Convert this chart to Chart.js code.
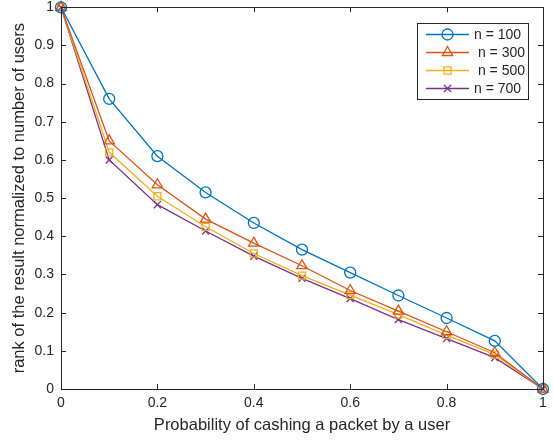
<!DOCTYPE html>
<html>
<head>
<meta charset="utf-8">
<script src="https://cdn.jsdelivr.net/npm/chart.js@4/dist/chart.umd.min.js"></script>
<style>
  html, body { margin: 0; padding: 0; background: #fff; }
  #wrap { width: 553px; height: 441px; }
</style>
</head>
<body>
<div id="wrap"><canvas id="chartRank"></canvas></div>
<script>
// data
const probs = [0, 0.1, 0.2, 0.3, 0.4, 0.5, 0.6, 0.7, 0.8, 0.9, 1];
const rank100 = [1, 0.76, 0.61, 0.515, 0.435, 0.365, 0.305, 0.245, 0.186, 0.126, 0];
const rank300 = [1, 0.65, 0.535, 0.445, 0.382, 0.323, 0.258, 0.204, 0.150, 0.095, 0];
const rank500 = [1, 0.62, 0.505, 0.425, 0.355, 0.297, 0.246, 0.195, 0.141, 0.090, 0];
const rank700 = [1, 0.60, 0.483, 0.414, 0.348, 0.290, 0.237, 0.182, 0.132, 0.082, 0];
const seriesNames = ['n = 100', ' n = 300', ' n = 500', 'n = 700'];
const xTicks = [0, 0.2, 0.4, 0.6, 0.8, 1];
const yTicks = [0, 0.1, 0.2, 0.3, 0.4, 0.5, 0.6, 0.7, 0.8, 0.9, 1];

const colors = ['#0072BD', '#D95319', '#EDB120', '#7E2F8E'];
const markers = ['circle', 'triangle', 'rect', 'crossRot'];
const markerSize = [5.5, 6, 5, 5];
const axisColor = '#262626';
const fontFamily = '"Liberation Sans", Arial, sans-serif';

function toPoints(ys) {
    return probs.map(function(p, i) { return { x: p, y: ys[i] }; });
}

const allSeries = [rank100, rank300, rank500, rank700];
const datasets = allSeries.map(function(ys, i) {
    return {
        label: seriesNames[i],
        data: toPoints(ys),
        borderColor: colors[i],
        backgroundColor: colors[i],
        borderWidth: 1.3,
        pointStyle: markers[i],
        pointRadius: markerSize[i],
        pointHoverRadius: markerSize[i],
        pointBorderColor: colors[i],
        pointBackgroundColor: 'rgba(0,0,0,0)',
        pointBorderWidth: 1.3,
        tension: 0,
        fill: false,
        clip: false
    };
});

// box + inward ticks + legend, MATLAB style
const matlabAxes = {
    id: 'matlabAxes',
    afterDatasetsDraw: function(chart) {
        const ctx = chart.ctx;
        const a = chart.chartArea;
        const xs = chart.scales.x;
        const ys = chart.scales.y;
        const tl = 5;
        ctx.save();
        ctx.strokeStyle = axisColor;
        ctx.lineWidth = 1;
        ctx.beginPath();
        xTicks.forEach(function(v) {
            const px = Math.round(xs.getPixelForValue(v)) + 0.5;
            ctx.moveTo(px, a.bottom); ctx.lineTo(px, a.bottom - tl);
            ctx.moveTo(px, a.top); ctx.lineTo(px, a.top + tl);
        });
        yTicks.forEach(function(v) {
            const py = Math.round(ys.getPixelForValue(v)) + 0.5;
            ctx.moveTo(a.left, py); ctx.lineTo(a.left + tl, py);
            ctx.moveTo(a.right, py); ctx.lineTo(a.right - tl, py);
        });
        ctx.stroke();
        ctx.strokeRect(Math.round(a.left) + 0.5, Math.round(a.top) + 0.5,
            Math.round(a.right - a.left), Math.round(a.bottom - a.top));

        // legend
        const bx = 417, by = 23, bw = 111, bh = 76;
        ctx.fillStyle = '#fff';
        ctx.fillRect(bx, by, bw, bh);
        ctx.strokeStyle = axisColor;
        ctx.strokeRect(bx + 0.5, by + 0.5, bw, bh);
        ctx.font = '14px ' + fontFamily;
        ctx.textBaseline = 'middle';
        ctx.textAlign = 'left';
        chart.data.datasets.forEach(function(ds, i) {
            const ry = by + 11.5 + i * 18;
            ctx.strokeStyle = ds.borderColor;
            ctx.lineWidth = 1.3;
            ctx.beginPath();
            ctx.moveTo(426, ry); ctx.lineTo(469, ry);
            ctx.stroke();
            ctx.fillStyle = 'rgba(0,0,0,0)';
            Chart.helpers.drawPoint(ctx, {
                pointStyle: ds.pointStyle,
                radius: ds.pointRadius,
                borderWidth: 1.3,
                rotation: 0
            }, 447.5, ry);
            ctx.fillStyle = axisColor;
            ctx.fillText(ds.label, 474, ry + 1);
        });
        ctx.restore();
    }
};

new Chart(document.getElementById('chartRank').getContext('2d'), {
    type: 'line',
    data: { datasets: datasets },
    options: {
        responsive: true,
        maintainAspectRatio: false,
        animation: false,
        events: [],
        layout: { padding: { left: 0, right: 10, top: 7, bottom: 0 } },
        plugins: {
            legend: { display: false },
            tooltip: { enabled: false }
        },
        scales: {
            x: {
                type: 'linear',
                min: 0,
                max: 1,
                afterBuildTicks: function(scale) {
                    scale.ticks = xTicks.map(function(v) { return { value: v }; });
                },
                afterFit: function(scale) {
                    scale.height = 52;
                    scale.paddingLeft = 0;
                    scale.paddingRight = 0;
                },
                ticks: {
                    color: axisColor,
                    padding: 6,
                    maxRotation: 0,
                    font: { family: fontFamily, size: 14 },
                    callback: function(v) { return String(v); }
                },
                grid: { display: false, drawTicks: false },
                border: { display: false },
                title: {
                    display: true,
                    text: 'Probability of cashing a packet by a user',
                    color: axisColor,
                    font: { family: fontFamily, size: 16.5 },
                    padding: { top: 0, bottom: 6 }
                }
            },
            y: {
                type: 'linear',
                min: 0,
                max: 1,
                afterBuildTicks: function(scale) {
                    scale.ticks = yTicks.map(function(v) { return { value: v }; });
                },
                afterFit: function(scale) {
                    scale.width = 61;
                    scale.paddingTop = 0;
                    scale.paddingBottom = 0;
                },
                ticks: {
                    color: axisColor,
                    padding: 7,
                    font: { family: fontFamily, size: 14 },
                    callback: function(v) { return String(v); }
                },
                grid: { display: false, drawTicks: false },
                border: { display: false },
                title: {
                    display: true,
                    text: 'rank of the result normalized to number of users',
                    color: axisColor,
                    font: { family: fontFamily, size: 16.5 },
                    padding: { top: 10, bottom: 0 }
                }
            }
        }
    },
    plugins: [matlabAxes]
});
</script>
</body>
</html>
